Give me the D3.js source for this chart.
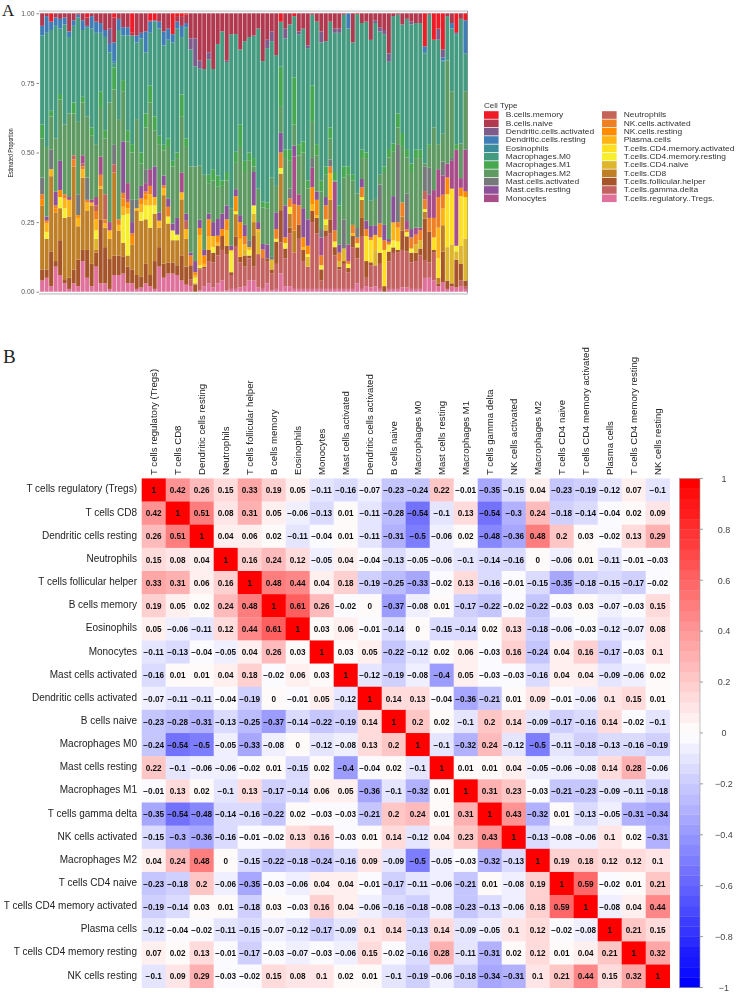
<!DOCTYPE html>
<html><head><meta charset="utf-8">
<script src="https://cdn.jsdelivr.net/npm/d3@7/dist/d3.min.js"></script>
<style>html,body{margin:0;padding:0;background:#fff}svg{display:block}</style>
</head><body><svg id="c" width="736" height="992"></svg>
<script>
// ---------- Panel A: one array per cell type, one value (%) per sample ----------
const tregs=[4,5,2,9,6,3,1,3,2,11,5,2,9,3,3,1,6,6,6.5,3,3,1,1.5,3,2,1,9,5,6.5,6.5,6,4,2.5,2,0,.5,2,3,1.5,3,4,.5,1,1,1.5,2,4,4,1.5,1,3,.5,1,6.5,2,2,1,1,1,1,1,1,1,1,1,1,1,1,1,1,3,1,2,1.5,2,1,0,1,1,1,1.5,1.5,1,1,1,5,5,4,2,3.5,1,2,1.5,2,1];
const gammaDelta=[0,0,0,0,0,0,0,0,0,0,0,0,0,0,0,0,0,0,0,0,0,0,0,0,0,0,0,0,0,0,0,0,0,2.5,0,7.5,6.5,8,9,10,11,13,5,15.5,9,7,8,5,12,11,8,6,9,11,10,19,13,18,10,8,24,20,3,19,20,12,7,9,6,15,9,19,3,8,7,9,0,10,13,13,13.5,13,9.5,10,12,6.5,5.5,10,0,0,0,0,0,2,1];
const follicular=[4,3,12.5,2,12.5,1.5,4,5,9.5,4,10,8,5,23,13,11,7,7,6,6,5,5,4,7,4,10,7,5,4,4,3.5,9,6.5,5,2.5,.5,.5,4,3.5,3.5,5,3,1,3.5,2,4,1,11,0,0,1,1.5,8,11.5,3.5,2,0,5,4,0,4,5.5,4,2,5,3,1,1,1.5,4,4,6.5,6,1,.5,4,2,3.5,2,1,7,5.5,3.5,3,2.5,15,11,1,1,11,3,1,10,6,2];
const cd8=[23,11,27,17.5,11.5,22,22,37,12,26,14,21,1,11,7,7,30,9,5,4,9,23,20,16,17,17,7,24.5,14,8,9,20,10,0,.5,0,0,0,0,0,0,0,0,8,0,0,0,5,0,0,0,0,0,13,0,5,8,0,0,0,0,0,0,0,7,0,0,0,0,0,0,6.5,0,0,0,0,0,0,0,0,5,0,0,0,0,2.5,0,0,2,9.5,0,0,0,0,0];
const cd4Naive=[0,0,0,0,0,0,0,0,0,0,0,0,4,0,0,0,0,0,0,0,0,0,0,0,0,0,0,0,0,0,0,0,0,0,0,0,0,0,0,0,0,0,0,0,0,2,0,3,8,0,0,3.5,0,0,0,0,0,0,0,3.5,0,0,0,2,0,0,2,4.5,0,0,0,0,0,0,5.5,0,0,0,0,0,0,0,0,3,3,0,0,0,0,0,12,14,3,6.5,15];
const cd4MemResting=[0,2.5,0,0,4,3.5,0,0,0,0,0,0,3,0,0,0,0,0,10,15,0,0,3,5,8,3,0,0,2.5,3.5,2,0,0,0,2,1,0,0,2,0,0,0,7.5,1,0,0,2,3,0,0,0,0,1,2,2,2.5,0,0,0,1,0,0,1.5,2,0,2,0,0,1.5,0,1.5,1,0,0,0,5.5,0,2.5,2.5,3,0,1.5,1.5,0,0,1,0,0,0,0,0,0,2,0,0];
const cd4MemActivated=[0,0,0,0,0,0,0,0,0,0,0,0,0,0,0,0,0,0,0,0,0,0,0,0,0,0,0,0,0,0,0,0,0,0,0,0,0,0,0,0,0,0,0,0,0,0,0,0,0,0,0,0,0,0,0,0,0,0,0,0,0,0,0,0,0,0,0,0,0,0,0,0,9,8,0,0,13,0,0,0,0,0,0,0,0,0,0,4.5,7,0,19,20,0,18,15];
const plasma=[0,3,2.5,0,0,3.5,6,0,3,3,3,1,4,1,1.5,3,0,2,3,2,0,1,3,2,4,3,2.5,2.5,0,0,0,2.5,3.5,0,1,11,1,5,4,1,0,5.5,.5,0,6.5,2,1,0,1,0,0,0,0,0,0,0,0,0,1,0,2.5,1,0,0,9.5,0,0,0,0,1,0,0,0,0,5.5,0,0,0,6.5,5,0,0,0,0,0,0,0,0,11,6,0,0,0,0,0];
const nkResting=[2,1,0,1.5,2.5,0,0,0,1,0,0,0,0,0,0,0,0,0,3,2,3,0,2,2,0,0,0,0,0,0,0,0,0,0,1,2.5,3,6,0,2.5,2.5,4,0,5.5,6,0,0,0,0,0,0,0,0,0,2,0,0,0,3.5,3,6,5.5,0,0,0,0,0,0,0,0,0,0,0,0,0,0,0,0,0,0,0,0,0,0,0,0,0,0,0,0,6,0,0,3,2];
const nkActivated=[2,0,0,1,0,1.5,0,2.5,0,1,1,0,3,4,1.5,0,0,2,2,0,1,0,0,1,3,0,0,1,3.5,0,0,0,0,3.5,0,0,0,0,0,0,0,0,0,0,0,3,0,0,0,3,0,0,3.5,5.5,0,3,9.5,7,0,0,0,0,3.5,5,2.5,4,3,0,1,3,2,3.5,2.5,1,0,5,3.5,1,0,2,5,1,4,3.5,3.5,3.5,5,7,11,5,0,0,0,0,0];
const neutrophils=[0,0,0,0,0,0,0,1.5,0,1,0,0,2,0,9,0,3,0,0,1,0,0,0,0,0,0,0,0,0,0,0,0,3,0,0,0,0,0,0,0,0,0,0,0,0,0,0,0,0,0,0,0,0,0,0,0,0,0,0,0,0,0,0,0,0,0,0,0,0,0,0,0,0,0,0,0,0,0,0,0,0,0,0,0,0,3,0,0,0,0,0,0,0,0,0];
const monocytes=[0,0,0,0,0,0,1,0,0,3,0,1,3,6.5,0,3,0,0,0,6,0,0,0,3,6,0,0,0,0,0,0,7,0,0,0,0,0,0,0,0,0,0,0,0,0,0,0,0,0,0,0,0,0,0,0,0,17,4,0,0,7,0,6.5,0,0,17.5,0,0,6,0,0,0,0,0,0,0,0,0,0,0,0,3,0,2.5,1,0,8.5,10,10,7,5,10,34.5,3.5,15];
const mastResting=[0,1.5,0,5,10.5,0,0,0,0,0,0,0,0,0,0,0,0,0,18.5,0,4,0,4.5,0,0,11,3,3.5,3,2.5,6,0,2.5,1,4,3,2,2,5,6,5.5,5,1.5,2.5,2.5,4,0,12,2.5,2,5,0,6,7,11.5,0,4,0,10.5,9.5,0,3,0,3,0,0,3,0,0,0,0,3,3,4,3.5,0,5.5,1,9.5,0,0,0,3,0,0,0,0,0,0,0,0,0,0,0,0];
const mastActivated=[6,0,7,0,0,0,0,0,7.5,0,8,0,0,0,0,0,7,0,0,0,8,3,0,5,0,0,0,0,0,0,0,0,0,0,0,0,0,0,0,0,0,0,0,0,0,0,2.5,0,0,0,0,1,0,0,0,3.5,0,0,0,0,3.5,0,3,0,2.5,0,0,10.5,0,0,3.5,0,0,0,0,14,0,0,0,28,0,10,0,0,0,9,9.5,0,0,5,0,1,0,0,0];
const macroM2=[14,25,12,19,22,25,30,15,26,19,22,23,19,17.5,20,43,20,36,18,15,17,29,8,15,24,13,24.5,9,18.5,20.5,21.5,20,24,31,34,19.5,27,11,15,11.5,10,9,13.5,9.5,24.5,19,28.5,2,12,13,13,28.5,9.5,9.5,17,10,7.5,14,20,11,13,13,13.5,8,7.5,.5,12,15,25,16,12.5,7.5,22.5,9,9.5,3.5,19,29.5,16,6,20,13,20.5,25,25,1,7.5,22.5,9,10,37,24,0,12.5,21];
const macroM1=[5,0,2,0,2,0,0,4,0,2,0,3,0,6,3,0,8,0,4,4,3,0,4,5,6,5,3,2,3,2,2,8,3,0,0,0,0,3,4,4,2,3,0,4,8,4,3,3,0,2,2,0,0,14,3,4,17,4,4,3,13,4,4,3,4,3,2,4,3,2,0,3,2,0,0,0,2,3,3,5,5,3,3,3,3,0,1,0,0,0,0,0,2,0,0];
const macroM0=[32,41,29,40.5,23.5,36,27.5,27.5,37.5,24,32,35.5,40,21,33.5,18,1.5,32,16,34,39,27.5,41,22,19,34,38.5,35.5,35.5,42.5,44.5,20.5,40,42,36,35,38,41.5,36,47,53.5,39.5,62.5,42.5,27,43,41.5,44,57.5,50,55.5,49,47,16,40,45,22,39.5,40.5,47.5,25.5,44,49.5,45,38,50,62,54.5,49.5,47.5,64.7,45.5,47,57.5,63.5,51.5,47.5,31.5,46,35.5,39,47,50,45.5,45.5,40,46.5,31.5,37.5,26,16,22.5,39.5,45,13.5];
const eosinophils=[0,0,0,0,0,0,0,0,0,0,0,0,0,0,0,0,.5,0,0,0,0,0,0,0,0,0,0,0,0,0,0,0,0,0,0,0,0,0,0,0,0,0,0,0,0,0,0,0,0,0,0,0,0,0,0,0,0,0,0,0,0,0,0,0,0,0,0,0,0,0,0,0,0,0,0,0,0,0,0,0,0,0,0,0,0,.5,0,0,0,.5,0,0,0,0,0];
const dcResting=[3.5,6,3,3,3.5,2.5,2,2,1,3.5,.5,4.5,4,3.5,2.5,3,7,4,3,3,0,2.5,2,7.5,4,.5,2.5,5,4,3,2.5,4,1.5,0,0,0,0,0,0,0,0,0,0,0,0,0,0,0,0,0,0,0,0,0,0,0,0,0,0,0,0,0,0,0,0,0,0,0,5.5,0,0,0,0,0,0,0,0,0,0,0,0,0,0,0,0,2,0,0,0,1,0,2,.5,0,12];
const dcActivated=[0,0,0,0,0,0,0,0,0,0,0,0,0,0,0,5.5,0,0,0,0,0,0,0,0,0,0,0,0,0,0,0,0,0,4,10,3,0,2.5,0,0,0,.5,0,0,0,0,0,0,0,0,3,3.5,0,0,3.5,0,0,1,0,1,0,0,4,0,0,1.5,1.5,0,0,0,0,0,0,0,1,1.5,1.5,3,0,0,0,0,1,0,0,0,0,0,4,3,0,0,0,0,0];
const bNaive=[4.5,1,0,1.5,2,1.5,6.5,2.5,.5,2.5,3,1,3,3.5,6,5.5,9,2,5,5,1,8,7,6.5,.5,0,3,6.5,5.5,0,2,3.5,3,9,9,17,20,14,20,11,6.5,17,7.5,7.5,13,10,8.5,8,5.5,17,9.5,6.5,15,0,5.5,4,0,6.5,5.5,11.5,.5,3,6.5,10,3,5.5,5.5,.5,0,10.5,0,3.5,3,9.5,2.5,5,6,14.5,1,.5,4,2,3,3.5,3.5,0,.5,0,0,0,1,3.5,0,2,0];
const bMemory=[0,0,3,0,0,0,0,0,0,0,1.5,0,0,0,0,0,1.5,0,0,0,7,0,0,0,2.5,2.5,0,0,0,7.5,1,1,.5,0,0,0,0,0,0,0,0,0,0,0,0,0,0,0,0,0,0,0,0,3,0,0,1,0,0,0,0,0,0,0,0,0,0,0,0,0,.3,0,0,0,0,0,0,0,0,0,0,0,0,0,0,12,0,9.5,5.5,13,0,0,7,0,2.5];

const legendNames=["B.cells.memory","B.cells.naive","Dendritic.cells.activated","Dendritic.cells.resting","Eosinophils","Macrophages.M0","Macrophages.M1","Macrophages.M2","Mast.cells.activated","Mast.cells.resting","Monocytes","Neutrophils","NK.cells.activated","NK.cells.resting","Plasma.cells","T.cells.CD4.memory.activated","T.cells.CD4.memory.resting","T.cells.CD4.naive","T.cells.CD8","T.cells.follicular.helper","T.cells.gamma.delta","T.cells.regulatory..Tregs."];
const legendColors=["#ee1c25","#b0384f","#7d5c8c","#3f7cb5","#3c8c9c","#459b80","#46a84f","#5f9a62","#75797a","#8c5198","#a84d89","#c46358","#ee7f22","#ff8c00","#ffb414","#ffdf20","#f7ef2e","#ddb62d","#bf7f26","#a6552b","#c46262","#e0709c"];
const legendSeries=[bMemory,bNaive,dcActivated,dcResting,eosinophils,macroM0,macroM1,macroM2,mastActivated,mastResting,monocytes,neutrophils,nkActivated,nkResting,plasma,cd4MemActivated,cd4MemResting,cd4Naive,cd8,follicular,gammaDelta,tregs];
const yTicks=[0,0.25,0.5,0.75,1];

// ---------- Panel B ----------
const corrLabels=["T cells regulatory (Tregs)","T cells CD8","Dendritic cells resting","Neutrophils","T cells follicular helper","B cells memory","Eosinophils","Monocytes","Mast cells activated","Dendritic cells activated","B cells naive","Macrophages M0","Mast cells resting","Macrophages M1","T cells gamma delta","NK cells activated","Macrophages M2","T cells CD4 naive","T cells CD4 memory activated","Plasma cells","T cells CD4 memory resting","NK cells resting"];
const corrValues=[
[1,.42,.26,.15,.33,.19,.05,-.11,-.16,-.07,-.23,-.24,.22,-.01,-.35,-.15,.04,-.23,-.19,-.12,.07,-.1],
[.42,1,.51,.08,.31,.05,-.06,-.13,.01,-.11,-.28,-.54,-.1,.13,-.54,-.3,.24,-.18,-.14,-.04,.02,.09],
[.26,.51,1,.04,.06,.02,-.11,-.04,.01,-.11,-.31,-.5,-.06,.02,-.48,-.36,.48,.2,.03,-.02,.13,.29],
[.15,.08,.04,1,.16,.24,.12,-.05,.04,-.04,-.13,-.05,-.06,-.1,-.14,-.16,0,-.06,.01,-.11,-.01,-.03],
[.33,.31,.06,.16,1,.48,.44,.04,.18,-.19,-.25,-.33,-.02,.13,-.16,-.01,-.15,-.35,-.18,-.15,-.17,-.02],
[.19,.05,.02,.24,.48,1,.61,.26,-.02,0,-.37,-.08,.01,-.17,-.22,-.02,-.22,-.03,.03,-.07,-.03,.15],
[.05,-.06,-.11,.12,.44,.61,1,.03,.06,-.01,-.14,0,-.15,-.14,.02,.13,-.18,-.06,-.03,-.12,-.07,.08],
[-.11,-.13,-.04,-.05,.04,.26,.03,1,.03,.05,-.22,-.12,.02,.06,-.03,.16,-.24,.04,.16,-.17,-.03,.1],
[-.16,.01,.01,.04,.18,-.02,.06,.03,1,-.12,-.19,-.08,-.4,.05,-.03,-.03,-.16,.04,.04,-.09,-.06,.02],
[-.07,-.11,-.11,-.04,-.19,0,-.01,.05,-.12,1,.14,.13,-.04,-.36,-.21,.01,.09,-.01,-.06,.1,.15,.01],
[-.23,-.28,-.31,-.13,-.25,-.37,-.14,-.22,-.19,.14,1,.2,.02,-.1,.2,.14,-.09,-.17,-.16,.14,-.02,-.1],
[-.24,-.54,-.5,-.05,-.33,-.08,0,-.12,-.08,.13,.2,1,-.1,-.32,.24,-.12,-.5,-.11,-.18,-.13,-.16,-.19],
[.22,-.1,-.06,-.06,-.02,.01,-.15,.02,-.4,-.04,.02,-.1,1,.01,.01,.04,-.05,-.06,-.08,.14,.28,-.06],
[-.01,.13,.02,-.1,.13,-.17,-.14,.06,.05,-.36,-.1,-.32,.01,1,.31,.23,-.03,-.21,-.23,-.09,-.11,-.18],
[-.35,-.54,-.48,-.14,-.16,-.22,.02,-.03,-.03,-.21,.2,.24,.01,.31,1,.43,-.32,.01,-.13,-.05,-.31,-.34],
[-.15,-.3,-.36,-.16,-.01,-.02,.13,.16,-.03,.01,.14,-.12,.04,.23,.43,1,-.13,-.08,-.06,.1,.02,-.31],
[.04,.24,.48,0,-.15,-.22,-.18,-.24,-.16,.09,-.09,-.5,-.05,-.03,-.32,-.13,1,.19,.18,.12,.12,.1],
[-.23,-.18,.2,-.06,-.35,-.03,-.06,.04,.04,-.01,-.17,-.11,-.06,-.21,.01,-.08,.19,1,.59,-.02,.01,.21],
[-.19,-.14,.03,.01,-.18,.03,-.03,.16,.04,-.06,-.16,-.18,-.08,-.23,-.13,-.06,.18,.59,1,-.08,.04,.44],
[-.12,-.04,-.02,-.11,-.15,-.07,-.12,-.17,-.09,.1,.14,-.13,.14,-.09,-.05,.1,.12,-.02,-.08,1,.21,.15],
[.07,.02,.13,-.01,-.17,-.03,-.07,-.03,-.06,.15,-.02,-.16,.28,-.11,-.31,.02,.12,.01,.04,.21,1,.32],
[-.1,.09,.29,-.03,-.02,.15,.08,.1,.02,.01,-.1,-.19,-.06,-.18,-.34,-.31,.1,.21,.44,.15,.32,1]];
const colorbarTicks=[-1,-.8,-.6,-.4,-.2,0,.2,.4,.6,.8,1];

const SANS='"Liberation Sans",Arial,sans-serif';
const svg=d3.select("#c");
const defs=svg.append("defs");
defs.append("filter").attr("id","soft").attr("x","-2%").attr("y","-2%").attr("width","104%").attr("height","104%")
  .append("feGaussianBlur").attr("stdDeviation",0.7);
defs.append("filter").attr("id","soft2").attr("x","-2%").attr("y","-2%").attr("width","104%").attr("height","104%")
  .append("feGaussianBlur").attr("stdDeviation",0.3);

// panel letters
svg.append("text").text("A").attr("x",2).attr("y",16).attr("font-family",'"Liberation Serif",serif').attr("font-size",17).attr("fill","#222");
svg.append("text").text("B").attr("x",3).attr("y",363).attr("font-family",'"Liberation Serif",serif').attr("font-size",19).attr("fill","#222");

// ---------- stacked bars ----------
const sampleIdx=d3.range(tregs.length);
const keysBottomUp=legendNames.slice().reverse();
const rows=sampleIdx.map(i=>{const o={i};legendNames.forEach((n,k)=>o[n]=legendSeries[k][i]||0);return o;});
const stack=d3.stack().keys(keysBottomUp).offset(d3.stackOffsetExpand)(rows);
const xA=d3.scaleBand().domain(sampleIdx).range([40,467.5]).paddingInner(0.11).paddingOuter(0.03);
const yA=d3.scaleLinear().domain([0,1]).range([291.7,13.3]);
const colorA=d3.scaleOrdinal().domain(legendNames).range(legendColors);
const A=svg.append("g").attr("filter","url(#soft)");
A.append("rect").attr("x",39).attr("y",10.3).attr("width",429).attr("height",1.8).attr("fill","#d4d4d4");
A.append("rect").attr("x",39).attr("y",293).attr("width",429).attr("height",1.8).attr("fill","#d4d4d4");
A.append("rect").attr("x",467).attr("y",11).attr("width",1).attr("height",282).attr("fill","#999");
A.selectAll("g.s").data(stack).join("g").attr("class","s").attr("fill",d=>colorA(d.key))
 .selectAll("rect").data(d=>d).join("rect")
 .attr("x",d=>xA(d.data.i)).attr("width",xA.bandwidth())
 .attr("y",d=>yA(d[1])).attr("height",d=>Math.max(0,yA(d[0])-yA(d[1])));
const axG=svg.append("g").attr("filter","url(#soft2)");
const axA=axG.append("g").attr("transform","translate(39,0)").call(d3.axisLeft(yA).tickValues(yTicks).tickFormat(d3.format(".2f")).tickSize(2.5));
axA.select(".domain").remove();
axA.selectAll("line").attr("stroke","#888");
axA.selectAll("text").attr("font-family",SANS).attr("font-size",6.8).attr("fill","#555").attr("dx",1);
axG.append("text").text("Estimated Proportion").attr("transform","translate(12.5,153) rotate(-90) scale(0.66,1)")
 .attr("text-anchor","middle").attr("font-family",SANS).attr("font-size",8).attr("fill","#222");

// ---------- legend ----------
const L=svg.append("g").attr("filter","url(#soft2)");
L.append("text").text("Cell Type").attr("font-family",SANS).attr("font-size",7).attr("fill","#333").attr("transform","translate(484,108) scale(1.15,1)");
const col=d3.scaleOrdinal().domain([0,1]).range([484,602]);
const rowY=d3.scaleLinear().domain([0,10]).range([115,198.3]);
legendNames.forEach((n,i)=>{
  const c=i<11?0:1, r=i%11, x=col(c), y=rowY(r);
  L.append("rect").attr("x",x).attr("y",y-3.8).attr("width",14.6).attr("height",7.6).attr("fill",legendColors[i]);
  L.append("text").text(n).attr("font-family",SANS).attr("font-size",7.2).attr("fill","#333")
   .attr("transform",`translate(${x+21.7},${y+2.4}) scale(1.17,1)`);
});

// ---------- correlation heat map ----------
const x0=141.7,y0=478.4,cw=24,ch=23.15,n=corrLabels.length;
const xB=d3.scaleBand().domain(corrLabels).range([x0,x0+n*cw]);
const yB=d3.scaleBand().domain(corrLabels).range([y0,y0+n*ch]);
const ramp=d3.scaleLinear().domain([-1,0,1]).range(["#0000ff","#ffffff","#ff0000"]);
const bandColors=d3.range(50).map(i=>ramp(-1+2*(i/49)));
const colorB=d3.scaleQuantize().domain([-1,1]).range(bandColors);
const B=svg.append("g").attr("filter","url(#soft2)");
const cells=corrValues.flatMap((r,i)=>r.map((v,j)=>({v,row:corrLabels[i],col:corrLabels[j]})));
B.selectAll("rect.cell").data(cells).join("rect").attr("class","cell")
 .attr("x",d=>xB(d.col)).attr("y",d=>yB(d.row)).attr("width",xB.bandwidth()+.3).attr("height",yB.bandwidth()+.3)
 .attr("fill",d=>colorB(d.v));
const fmt=v=>(v<0?"\u2212":"")+String(Math.abs(v));
B.selectAll("text.v").data(cells).join("text").attr("class","v")
 .attr("x",d=>xB(d.col)+cw/2).attr("y",d=>yB(d.row)+ch/2+3.2).attr("text-anchor","middle")
 .attr("font-family",SANS).attr("font-weight","bold").attr("font-size",8.2).attr("fill","#111").text(d=>fmt(d.v));
B.selectAll("text.r").data(corrLabels).join("text").attr("class","r")
 .attr("x",137).attr("y",d=>yB(d)+ch/2+2.5).attr("text-anchor","end")
 .attr("font-family",SANS).attr("font-size",10).attr("fill","#222").text(d=>d);
B.selectAll("text.c").data(corrLabels).join("text").attr("class","c")
 .attr("transform",d=>`translate(${xB(d)+cw/2+3.6},475) rotate(-90)`)
 .attr("font-family",SANS).attr("font-size",9.6).attr("fill","#222").text(d=>d);

// ---------- colour bar ----------
const yC=d3.scaleLinear().domain([-1,1]).range([987.5,478.4]);
const bandH=(yC(-1)-yC(1))/bandColors.length;
B.selectAll("rect.band").data(bandColors).join("rect").attr("class","band")
 .attr("x",679.5).attr("width",20.5).attr("y",(d,i)=>yC(-1)-(i+1)*bandH).attr("height",bandH+.3).attr("fill",d=>d);
B.append("rect").attr("x",679.5).attr("y",478.4).attr("width",20.5).attr("height",509.1).attr("fill","none").attr("stroke","#999").attr("stroke-width",.6);
const ax=B.append("g").selectAll("g").data(colorbarTicks).join("g");
ax.append("line").attr("x1",700).attr("x2",703).attr("y1",d=>yC(d)).attr("y2",d=>yC(d)).attr("stroke","#777").attr("stroke-width",.7);
ax.append("text").attr("x",724).attr("y",d=>yC(d)+3.3).attr("text-anchor","middle")
 .attr("font-family",SANS).attr("font-size",9).attr("fill","#444").text(d=>d===0?"0":fmt(d));
</script></body></html>
